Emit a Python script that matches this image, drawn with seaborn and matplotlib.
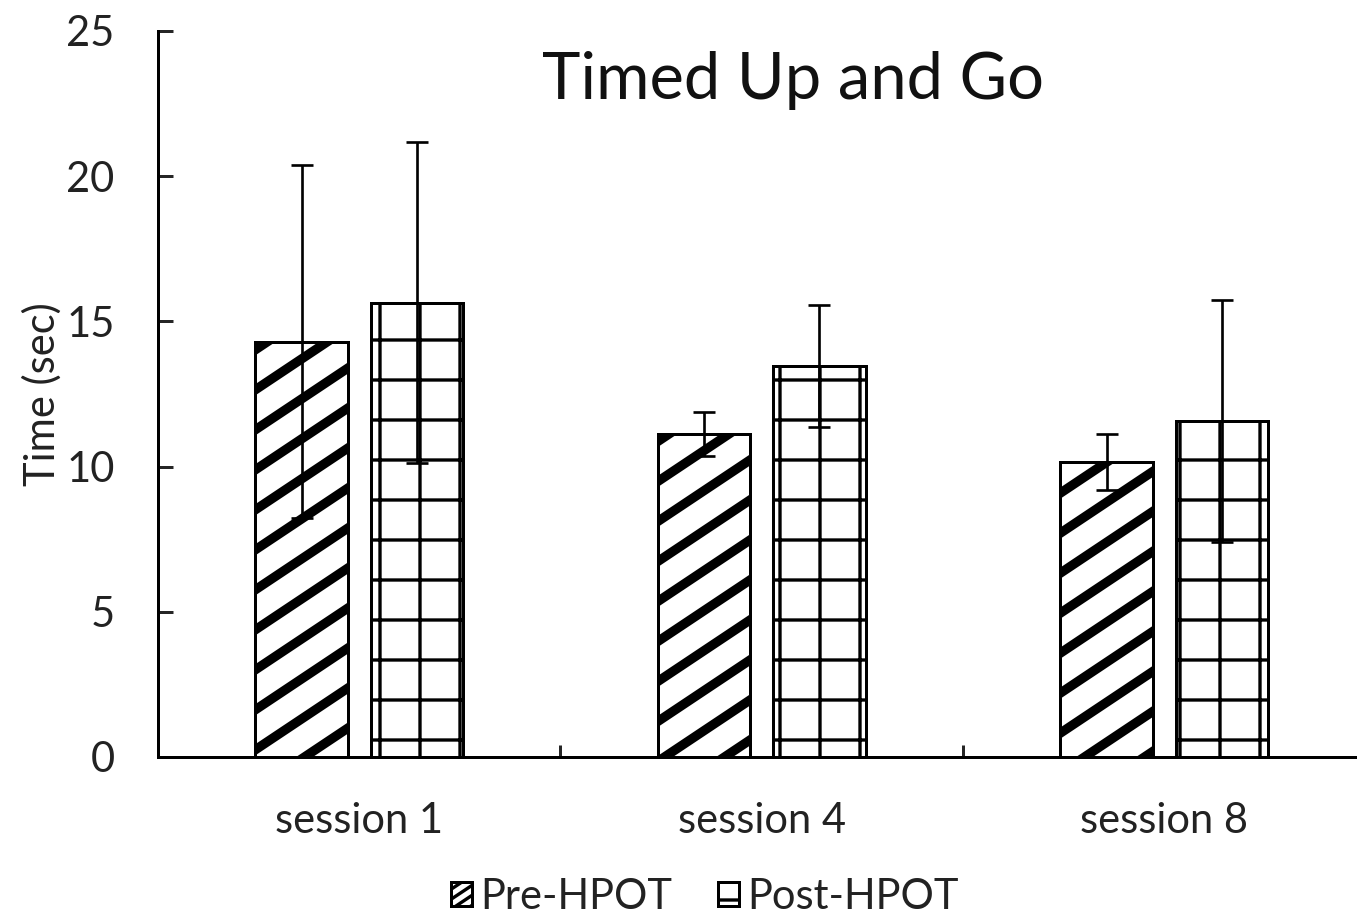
import numpy as np
import pandas as pd
import matplotlib
matplotlib.use("Agg")
import matplotlib.pyplot as plt
from matplotlib.patches import Patch
from matplotlib.container import BarContainer
from matplotlib.path import Path
from matplotlib import hatch as mhatch
import seaborn as sns

sessions = ["session 1", "session 4", "session 8"]
groups = ["Pre-HPOT", "Post-HPOT"]
pre_mean = [14.3, 11.12, 10.15]
post_mean = [15.65, 13.45, 11.56]
pre_sd = [6.07, 0.77, 0.96]
post_sd = [5.52, 2.10, 4.17]
hatches = ["//", "+"]


# shallower (about 34 degree) diagonal hatch, as in the reference
class ShallowNorthEastHatch(mhatch.HatchPatternBase):
    def __init__(self, hatch, density):
        self.n = hatch.count('/') + hatch.count('x') + hatch.count('X')
        self.num_lines = 7 * self.n if self.n else 0
        self.num_vertices = self.num_lines * 2

    def set_vertices_and_codes(self, vertices, codes):
        n = self.n
        ks = np.arange(-3 * n, 4 * n)
        step = 1.0 / (3 * n)
        slope = 2.0 / 3.0
        x0, x1 = -0.25, 1.25
        vertices[0::2, 0] = x0
        vertices[0::2, 1] = ks * step + slope * x0
        vertices[1::2, 0] = x1
        vertices[1::2, 1] = ks * step + slope * x1
        codes[0::2] = Path.MOVETO
        codes[1::2] = Path.LINETO


mhatch._hatch_types = [ShallowNorthEastHatch if t is mhatch.NorthEastHatch else t
                       for t in mhatch._hatch_types]

sns.set_theme(style="white")
plt.rcParams["font.family"] = ["Lato", "DejaVu Sans"]
plt.rcParams["hatch.color"] = "black"

DPI = 240
fig = plt.figure(figsize=(1357 / DPI, 917 / DPI), dpi=DPI)
ax = fig.add_axes([158 / 1357, 160 / 917, 1 - 158 / 1357, (757 - 31) / 917])

df = pd.DataFrame({
    "session": sessions * 2,
    "group": [groups[0]] * 3 + [groups[1]] * 3,
    "time": pre_mean + post_mean,
})

sns.barplot(data=df, x="session", y="time", hue="group", order=sessions,
            hue_order=groups, palette=["white", "white"], width=0.573, gap=0.2,
            errorbar=None, edgecolor="black", linewidth=0.9, saturation=1,
            legend=False, ax=ax)

bar_conts = [c for c in ax.containers if isinstance(c, BarContainer)]
sds = [pre_sd, post_sd]
hlw = [2.8, 1.0]
for ci, cont in enumerate(bar_conts):
    xs, ys = [], []
    for p in cont.patches:
        p.set_hatch(hatches[ci])
        p.set_facecolor("white")
        p.set_edgecolor("black")
        if hasattr(p, "set_hatch_linewidth"):
            p.set_hatch_linewidth(hlw[ci])
        xs.append(p.get_x() + p.get_width() / 2)
        ys.append(p.get_height())
    ax.errorbar(xs, ys, yerr=sds[ci], fmt="none", ecolor="black",
                elinewidth=0.8, capsize=3.4, capthick=0.8, zorder=5)

ax.set_ylim(0, 25)
ax.set_xlim(-0.5, 2.479)
ax.set_yticks([0, 5, 10, 15, 20, 25])
ax.set_xlabel("")
ax.set_ylabel("Time (sec)", fontsize=12.5, color="#222222", labelpad=1.5)
for s in ["top", "right"]:
    ax.spines[s].set_visible(False)
for s in ["left", "bottom"]:
    ax.spines[s].set_color("black")
    ax.spines[s].set_linewidth(0.9)

ax.tick_params(axis="y", direction="in", length=4.5, width=0.9, pad=13,
               labelsize=12.5, labelcolor="#222222", left=True)
ax.tick_params(axis="x", which="major", length=0, pad=13.5, labelsize=12.5,
               labelcolor="#222222")
ax.set_xticks([0.5, 1.5], minor=True)
ax.tick_params(axis="x", which="minor", direction="in", length=3.5,
               width=0.9, bottom=True)

fig.text(793 / 1357, 1 - 80 / 917, "Timed Up and Go", ha="center",
         va="center", fontsize=19.5, color="#111111")

h_pre = Patch(facecolor="white", edgecolor="black", hatch="////////", linewidth=0.9)
h_post = Patch(facecolor="white", edgecolor="black", hatch="-", linewidth=0.9)
for h, w in ((h_pre, 1.8), (h_post, 1.0)):
    if hasattr(h, "set_hatch_linewidth"):
        h.set_hatch_linewidth(w)
leg = fig.legend([h_pre, h_post], groups, loc="center",
                 bbox_to_anchor=(705 / 1357, 1 - 897 / 917),
                 ncol=2, frameon=False, fontsize=12.5, handlelength=0.5,
                 handleheight=0.5, handletextpad=0.2, columnspacing=1.1,
                 labelcolor="#222222")

fig.savefig("out.png", dpi=DPI)
